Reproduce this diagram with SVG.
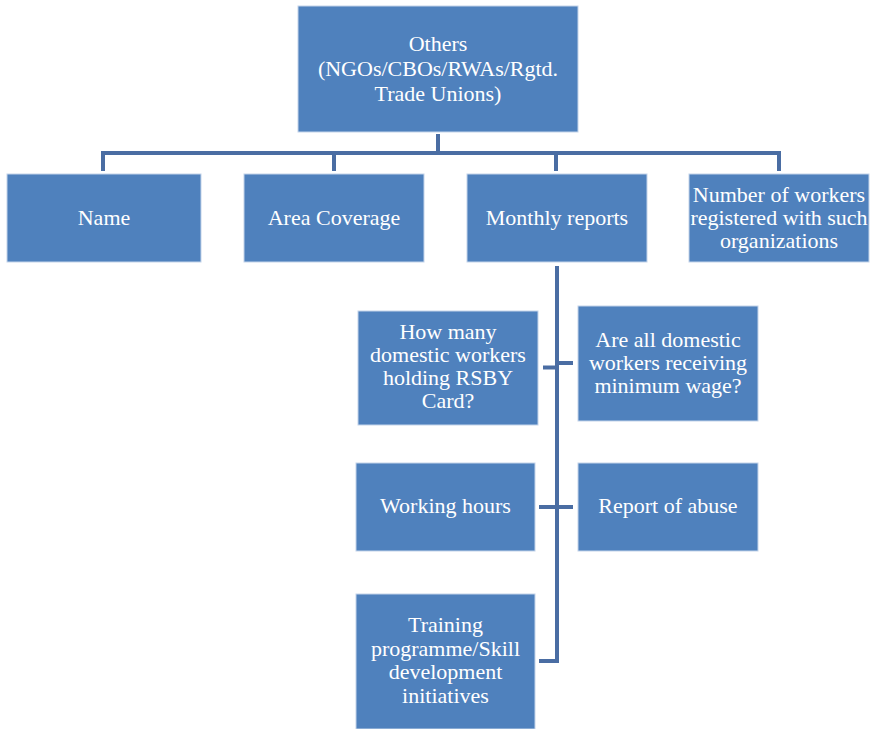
<svg xmlns="http://www.w3.org/2000/svg" width="870" height="729" viewBox="0 0 870 729">
<style>
.box{fill:#4F81BD;stroke:#c4d4ea;stroke-width:1}
.t{font-family:"Liberation Serif","Times New Roman",serif;font-size:22px;fill:#ffffff;text-anchor:middle}
.c{fill:none;stroke:#4a6da3;stroke-width:4;stroke-linejoin:miter}
</style>
<rect width="870" height="729" fill="#ffffff"/>
<g id="connectors">
<path class="c" d="M438 134V153"/>
<path class="c" d="M103 171V153H779V171"/>
<path class="c" d="M334 153V171"/>
<path class="c" d="M556 153V171"/>
<path class="c" d="M557 266V661H539"/>
<path class="c" d="M543 367.5H557"/>
<path class="c" d="M557 363H573"/>
<path class="c" d="M539 507H573"/>
</g>
<g id="n-others">
<rect class="box" x="298" y="6" width="280" height="126"/>
<text class="t" x="438" y="51">Others</text>
<text class="t" x="438" y="76">(NGOs/CBOs/RWAs/Rgtd.</text>
<text class="t" x="438" y="101">Trade Unions)</text>
</g>
<g id="n-name">
<rect class="box" x="7" y="174" width="194" height="88"/>
<text class="t" x="104" y="225">Name</text>
</g>
<g id="n-area">
<rect class="box" x="244" y="174" width="180" height="88"/>
<text class="t" x="334" y="225">Area Coverage</text>
</g>
<g id="n-monthly">
<rect class="box" x="467" y="174" width="180" height="88"/>
<text class="t" x="557" y="225">Monthly reports</text>
</g>
<g id="n-number">
<rect class="box" x="689" y="174" width="180" height="88"/>
<text class="t" x="779" y="202">Number of workers</text>
<text class="t" x="779" y="225">registered with such</text>
<text class="t" x="779" y="248">organizations</text>
</g>
<g id="n-rsby">
<rect class="box" x="358" y="311" width="180" height="114"/>
<text class="t" x="448" y="339">How many</text>
<text class="t" x="448" y="362">domestic workers</text>
<text class="t" x="448" y="385">holding RSBY</text>
<text class="t" x="448" y="408">Card?</text>
</g>
<g id="n-wage">
<rect class="box" x="578" y="306" width="180" height="115"/>
<text class="t" x="668" y="347">Are all domestic</text>
<text class="t" x="668" y="370">workers receiving</text>
<text class="t" x="668" y="393">minimum wage?</text>
</g>
<g id="n-hours">
<rect class="box" x="356" y="463" width="179" height="88"/>
<text class="t" x="445.5" y="513">Working hours</text>
</g>
<g id="n-abuse">
<rect class="box" x="578" y="463" width="180" height="88"/>
<text class="t" x="668" y="513">Report of abuse</text>
</g>
<g id="n-training">
<rect class="box" x="356" y="594" width="179" height="135"/>
<text class="t" x="445.5" y="632">Training</text>
<text class="t" x="445.5" y="656">programme/Skill</text>
<text class="t" x="445.5" y="679">development</text>
<text class="t" x="445.5" y="703">initiatives</text>
</g>
</svg>
